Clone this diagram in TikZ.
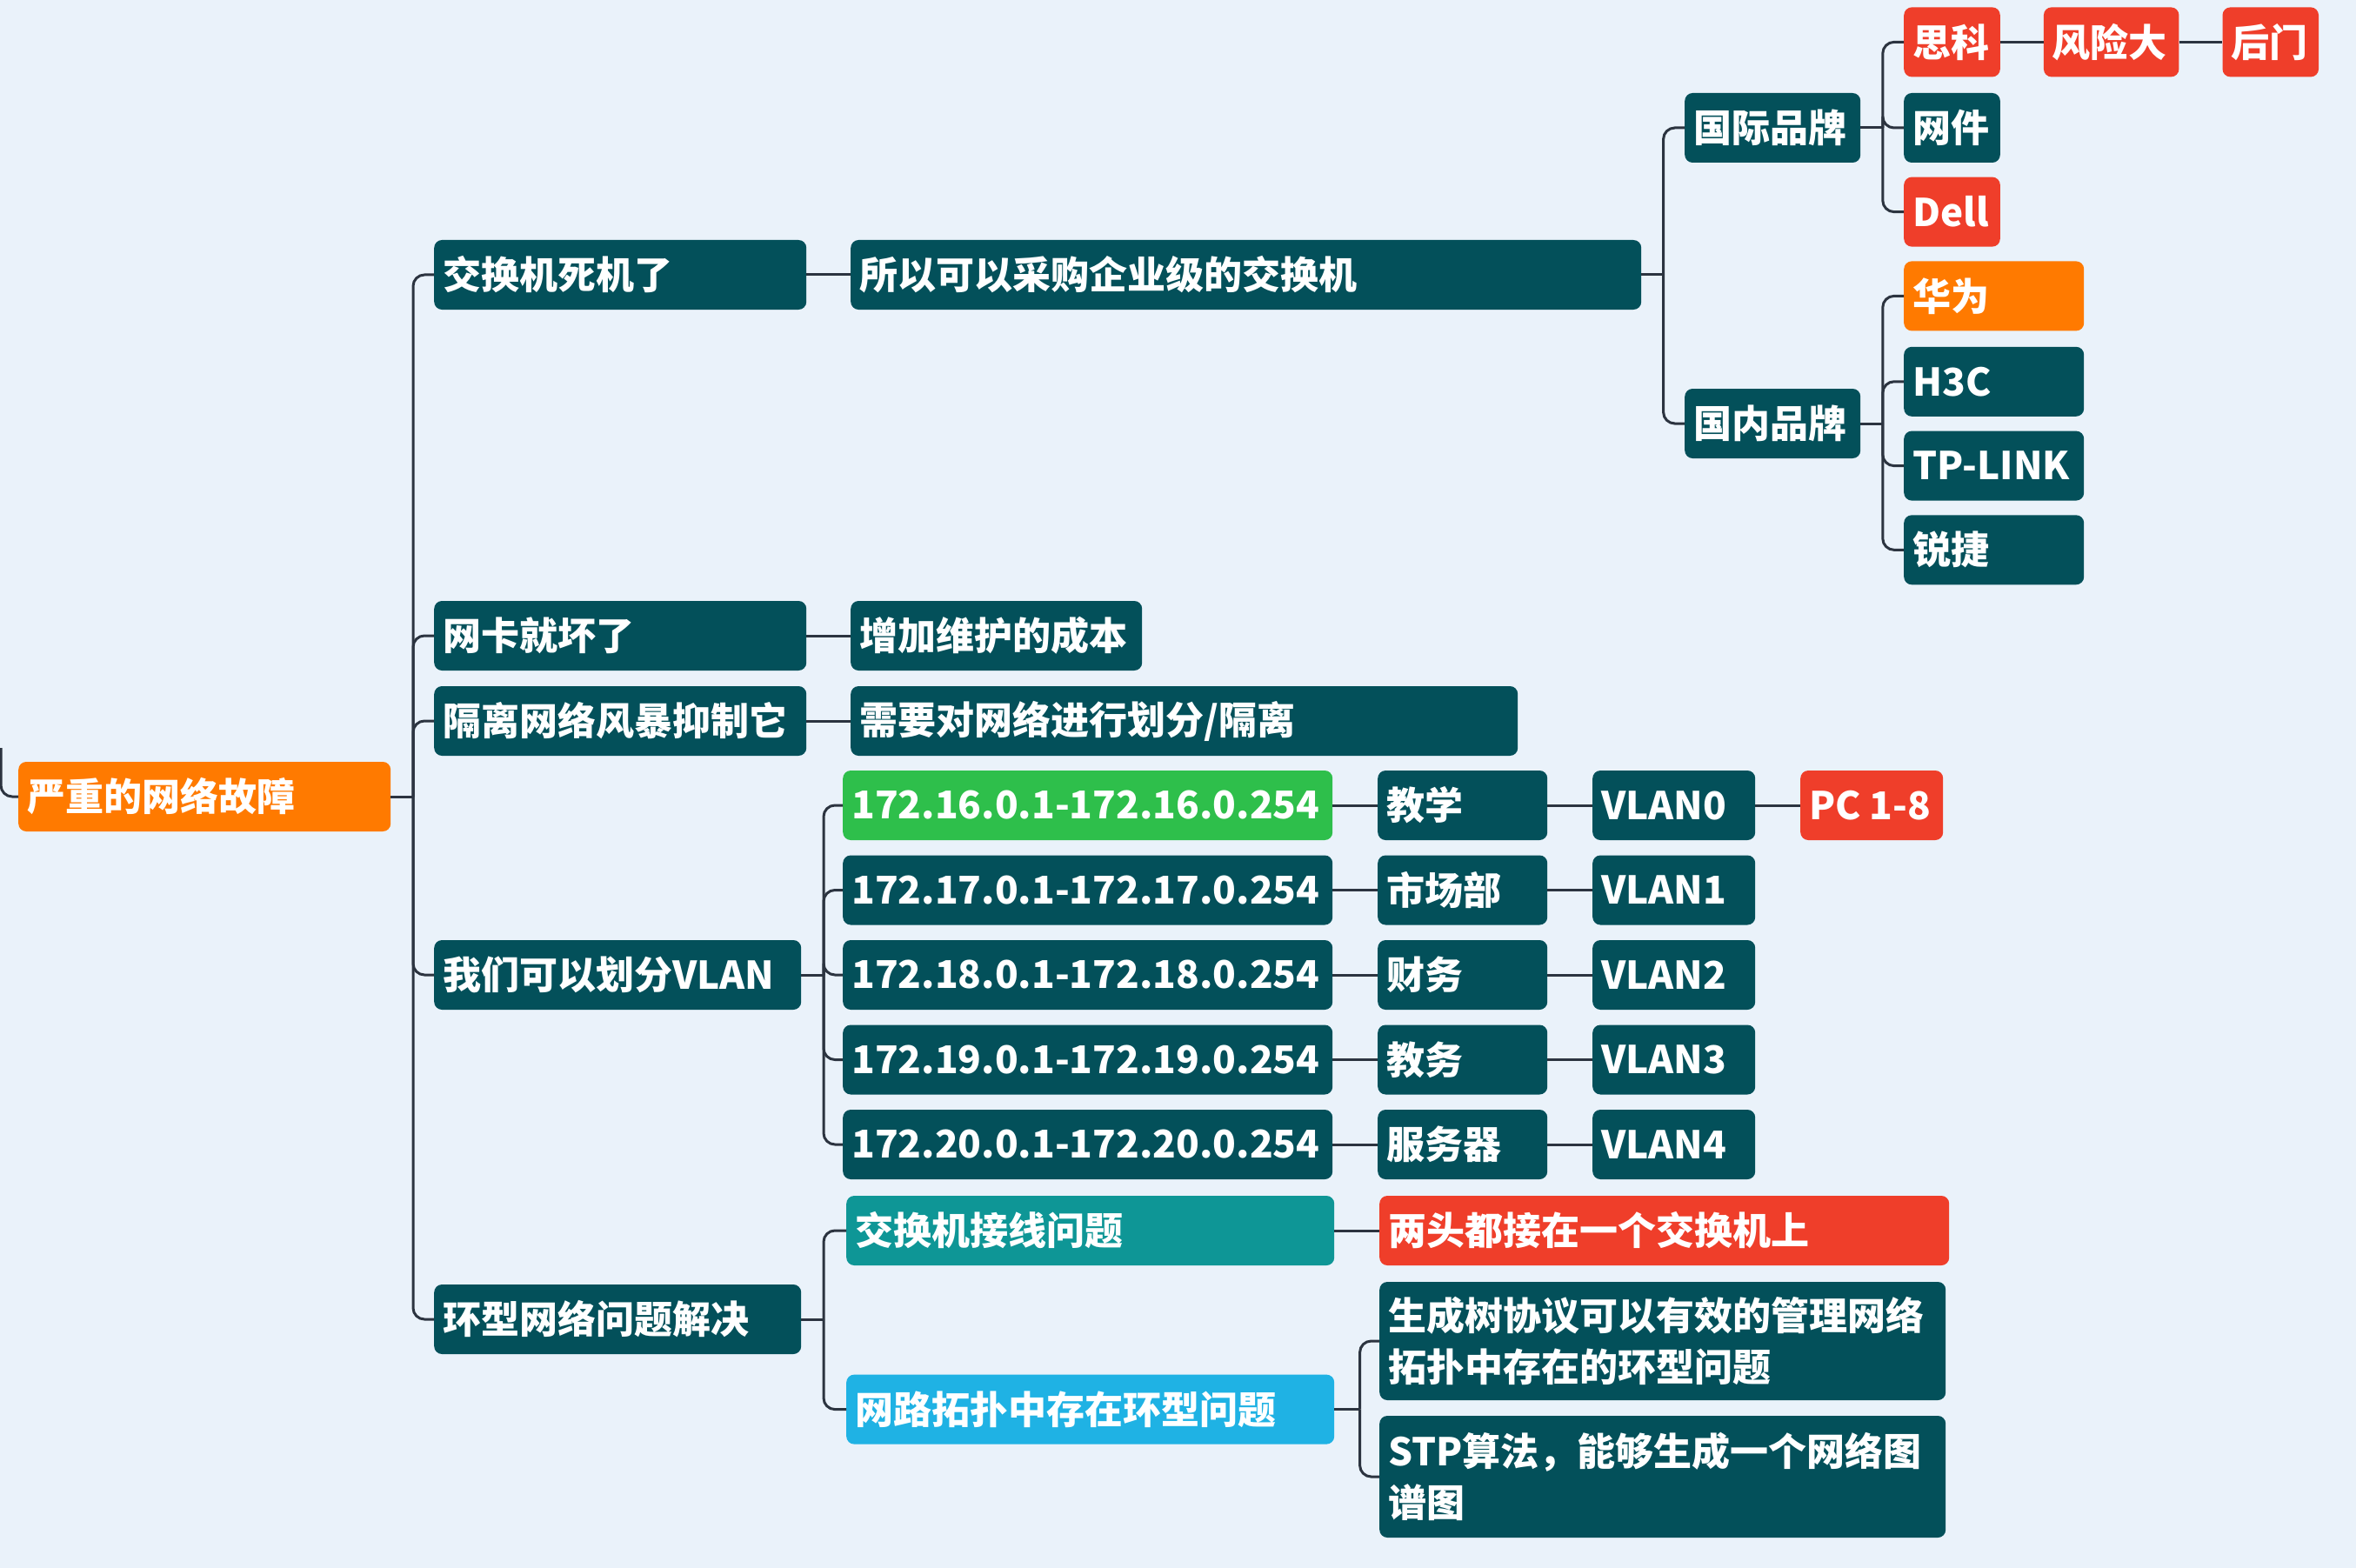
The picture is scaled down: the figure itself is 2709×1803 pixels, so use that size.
\documentclass[tikz,border=0pt]{standalone}
\usepackage{fontspec}
\setmainfont{Noto Sans CJK SC}
\definecolor{bg}{HTML}{EAF2FA}
\definecolor{dk}{HTML}{03505A}
\definecolor{org}{HTML}{FF7A00}
\definecolor{rd}{HTML}{EF3E2A}
\definecolor{gr}{HTML}{2EBF4B}
\definecolor{tl}{HTML}{0E9696}
\definecolor{lb}{HTML}{1FB2E4}
\definecolor{ln}{HTML}{2C3440}
\tikzset{
  boxs/.style={draw=none, rounded corners=9pt, inner sep=0pt},
  txt/.style={text=white, inner sep=0pt, align=left, font=\bfseries\fontsize{44}{59}\selectfont},
  conn/.style={draw=ln, line width=3pt, rounded corners=13pt},
}
\newcommand\bx[7]{%
  \node[boxs, fill=#6, minimum width=#4pt, minimum height=#5pt, anchor=west] (#1) at (#2,#3) {};
  \node[txt, anchor=west] (#1t) at ([xshift=10pt]#1.west) {#7};
}
\begin{document}
\begin{tikzpicture}[x=1pt,y=-1pt]
\fill[bg] (0,0) rectangle (2709,1803);
\useasboundingbox (0,0) rectangle (2709,1803);
% root
\bx{root}{21}{916}{428}{80}{org}{严重的网络故障}
% level 1
\bx{a1}{499}{316}{428}{80}{dk}{交换机死机了}
\bx{a2}{499}{731}{428}{80}{dk}{网卡就坏了}
\bx{a3}{499}{829}{428}{80}{dk}{隔离网络风暴抑制它}
\bx{a4}{499}{1121}{422}{80}{dk}{我们可以划分VLAN}
\bx{a5}{499}{1517}{422}{80}{dk}{环型网络问题解决}
% level 2
\bx{b1}{978}{316}{909}{80}{dk}{所以可以采购企业级的交换机}
\bx{b2}{978}{731}{335}{80}{dk}{增加维护的成本}
\bx{b3}{978}{829}{767}{80}{dk}{需要对网络进行划分/隔离}
\bx{ip0}{969}{926}{563}{80}{gr}{172.16.0.1-172.16.0.254}
\bx{ip1}{969}{1023.5}{563}{80}{dk}{172.17.0.1-172.17.0.254}
\bx{ip2}{969}{1121}{563}{80}{dk}{172.18.0.1-172.18.0.254}
\bx{ip3}{969}{1218.5}{563}{80}{dk}{172.19.0.1-172.19.0.254}
\bx{ip4}{969}{1316}{563}{80}{dk}{172.20.0.1-172.20.0.254}
\bx{sw}{973}{1415}{561}{80}{tl}{交换机接线问题}
\bx{topo}{973}{1620.6}{561}{80}{lb}{网路拓扑中存在环型问题}
% level 3 vlan
\bx{d0}{1584}{926}{195}{80}{dk}{教学}
\bx{d1}{1584}{1023.5}{195}{80}{dk}{市场部}
\bx{d2}{1584}{1121}{195}{80}{dk}{财务}
\bx{d3}{1584}{1218.5}{195}{80}{dk}{教务}
\bx{d4}{1584}{1316}{195}{80}{dk}{服务器}
\bx{v0}{1831}{926}{187}{80}{dk}{VLAN0}
\bx{v1}{1831}{1023.5}{187}{80}{dk}{VLAN1}
\bx{v2}{1831}{1121}{187}{80}{dk}{VLAN2}
\bx{v3}{1831}{1218.5}{187}{80}{dk}{VLAN3}
\bx{v4}{1831}{1316}{187}{80}{dk}{VLAN4}
\bx{pc}{2070}{926}{164}{80}{rd}{PC 1-8}
% loop
\bx{two}{1586}{1415}{655}{80}{rd}{两头都接在一个交换机上}
\bx{stpa}{1586}{1542}{651}{136}{dk}{生成树协议可以有效的管理网络\\拓扑中存在的环型问题}
\bx{stpb}{1586}{1698}{651}{140}{dk}{STP算法，能够生成一个网络图\\谱图}
% brands
\bx{intl}{1937}{147}{202}{80}{dk}{国际品牌}
\bx{dom}{1937}{487}{202}{80}{dk}{国内品牌}
\bx{cisco}{2189}{48.4}{110.6}{80}{rd}{思科}
\bx{risk}{2349.7}{48.4}{155.5}{80}{rd}{风险大}
\bx{back}{2555.3}{48.4}{110.5}{80}{rd}{后门}
\bx{netg}{2189}{147}{110.6}{80}{dk}{网件}
\bx{dell}{2189}{243.6}{110.6}{80}{rd}{Dell}
\bx{hw}{2189}{340.4}{207}{80}{org}{华为}
\bx{h3c}{2189}{438.8}{207}{80}{dk}{H3C}
\bx{tp}{2189}{535.6}{207}{80}{dk}{TP-LINK}
\bx{rj}{2189}{632.3}{207}{80}{dk}{锐捷}
% connectors
\coordinate (L0) at (1,860);
\draw[conn] (L0) |- (root.west);
\coordinate (T1) at (475,916);
\draw[conn] (root.east) -- (T1);
\foreach \c in {a1,a2,a3,a4,a5} \draw[conn] (T1) |- (\c.west);
\draw[conn] (a1.east) -- (b1.west);
\draw[conn] (a2.east) -- (b2.west);
\draw[conn] (a3.east) -- (b3.west);
\coordinate (T2) at (1912.6,316);
\draw[conn] (b1.east) -- (T2);
\foreach \c in {intl,dom} \draw[conn] (T2) |- (\c.west);
\coordinate (T3) at (2164.8,147);
\draw[conn] (intl.east) -- (T3);
\foreach \c in {cisco,netg,dell} \draw[conn] (T3) |- (\c.west);
\draw[conn] (cisco.east) -- (risk.west);
\draw[conn] (risk.east) -- (back.west);
\coordinate (T4) at (2164.8,487);
\draw[conn] (dom.east) -- (T4);
\foreach \c in {hw,h3c,tp,rj} \draw[conn] (T4) |- (\c.west);
\coordinate (T5) at (947,1121);
\draw[conn] (a4.east) -- (T5);
\foreach \c in {ip0,ip1,ip2,ip3,ip4} \draw[conn] (T5) |- (\c.west);
\foreach \i in {0,...,4} {
  \draw[conn] (ip\i.east) -- (d\i.west);
  \draw[conn] (d\i.east) -- (v\i.west);
}
\draw[conn] (v0.east) -- (pc.west);
\coordinate (T6) at (947,1517);
\draw[conn] (a5.east) -- (T6);
\foreach \c in {sw,topo} \draw[conn] (T6) |- (\c.west);
\draw[conn] (sw.east) -- (two.west);
\coordinate (T7) at (1563.6,1620.6);
\draw[conn] (topo.east) -- (T7);
\foreach \c in {stpa,stpb} \draw[conn] (T7) |- (\c.west);
\end{tikzpicture}
\end{document}
